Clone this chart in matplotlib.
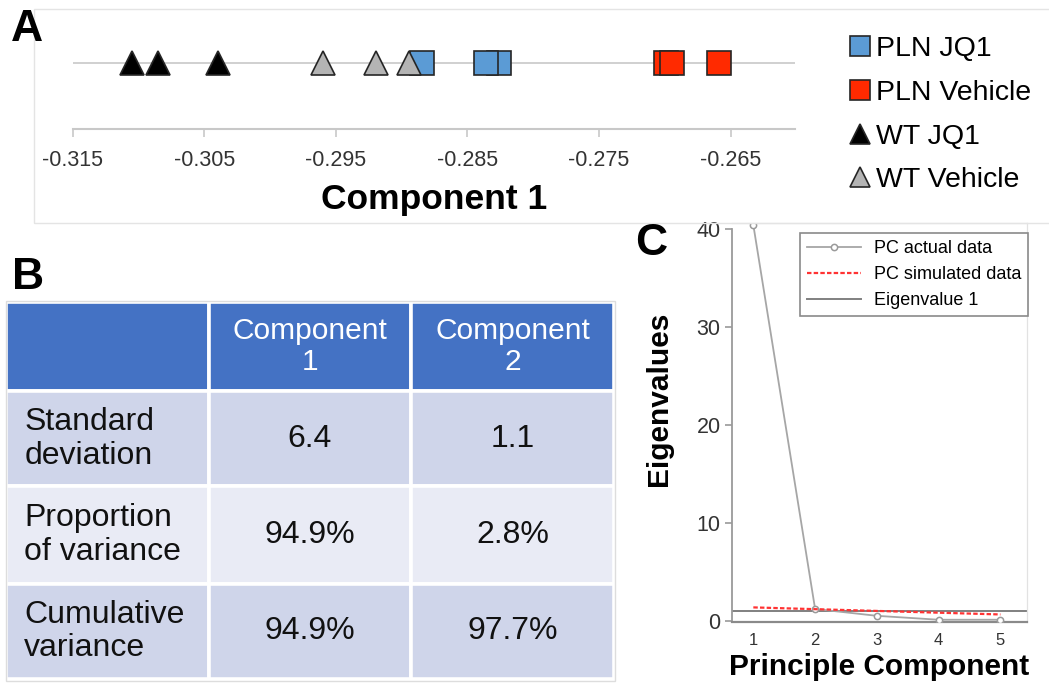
"""PCA summary figure: component-1 scores (A), variance table (B), scree plot (C)."""

import matplotlib

matplotlib.use("Agg")
import matplotlib.pyplot as plt  # noqa: E402
from matplotlib.lines import Line2D  # noqa: E402
from matplotlib.patches import Rectangle  # noqa: E402

plt.rcParams["font.family"] = ["Liberation Sans", "DejaVu Sans"]

# ---- data ----
# Panel A: component 1 scores per group
GROUPS = ["PLN JQ1", "PLN Vehicle", "WT JQ1", "WT Vehicle"]
pln_jq1 = [-0.28848, -0.28264, -0.28356]
pln_vehicle = [-0.26992, -0.26946, -0.26589]
wt_jq1 = [-0.31047, -0.30850, -0.30398]
wt_vehicle = [-0.29600, -0.29195, -0.28942]
score_ticks = [-0.315, -0.305, -0.295, -0.285, -0.275, -0.265]

# Panel B: summary table
row_labels = ["Standard\ndeviation", "Proportion\nof variance", "Cumulative\nvariance"]
col_labels = ["Component\n1", "Component\n2"]
comp1_vals = ["6.4", "94.9%", "94.9%"]
comp2_vals = ["1.1", "2.8%", "97.7%"]

# Panel C: scree plot
pc_index = [1, 2, 3, 4, 5]
pc_actual = [40.4, 1.2, 0.5, 0.1, 0.1]
pc_simulated = [1.36, 1.18, 1.00, 0.82, 0.64]
eig_cutoff = 1.0

W, H = 1049, 683
fig = plt.figure(figsize=(W / 100, H / 100), dpi=100)


def rect(x0, y0, x1, y1):
    """pixel box (top-left origin) -> figure fraction rect"""
    return [x0 / W, 1 - y1 / H, (x1 - x0) / W, (y1 - y0) / H]


# faint panel frames
fig.patches.append(Rectangle((34 / W, 1 - 222.5 / H), 1.1, (222.5 - 9) / H,
                             transform=fig.transFigure, fill=False,
                             edgecolor="#e4e4e4", linewidth=1))
fig.patches.append(Rectangle((5.7 / W, 1 - 680.7 / H), (615 - 5.7) / W, (680.7 - 300.7) / H,
                             transform=fig.transFigure, fill=False,
                             edgecolor="#dddddd", linewidth=1))

# ---- Panel A ----
axA = fig.add_axes(rect(72.7, 30, 795, 129))
axA.axhline(0, color="#c8c8c8", linewidth=1.2, zorder=0)
styles = [
    (pln_jq1, "s", "#5B9BD5"),
    (pln_vehicle, "s", "#FF2A00"),
    (wt_jq1, "^", "#000000"),
    (wt_vehicle, "^", "#B4B4B4"),
]
for vals, mk, col in styles:
    axA.plot(vals, [0] * len(vals), linestyle="none", marker=mk, markersize=17,
             markerfacecolor=col, markeredgecolor="#262626", markeredgewidth=1.2)
axA.set_xlim(-0.315, -0.26011)
axA.set_ylim(-2, 1)
axA.set_yticks([])
axA.set_xticks(score_ticks)
axA.set_xticklabels([f"{t:.3f}" for t in score_ticks])
for side in ["top", "right", "left"]:
    axA.spines[side].set_visible(False)
axA.spines["bottom"].set_color("#c8c8c8")
axA.spines["bottom"].set_linewidth(1.5)
axA.tick_params(axis="x", length=6, width=1.2, color="#c8c8c8", labelsize=15.5,
                labelcolor="#333333", pad=9)
axA.set_xlabel("Component 1", fontsize=25.5, fontweight="bold", labelpad=9)

handles = [Line2D([], [], linestyle="none", marker=mk, markersize=14,
                  markerfacecolor=col, markeredgecolor="#262626", markeredgewidth=1.2)
           for _, mk, col in styles]
axA.legend(handles, GROUPS, loc="upper left", bbox_to_anchor=(836 / W, 1 - 22 / H),
           bbox_transform=fig.transFigure, frameon=False, fontsize=20.5,
           handlelength=0.7, handletextpad=0.2, borderpad=0, labelspacing=0.62)

# ---- Panel B ----
axB = fig.add_axes(rect(6, 302, 614, 679))
axB.axis("off")
cell_text = [[r, a, b] for r, a, b in zip(row_labels, comp1_vals, comp2_vals)]
tbl = axB.table(cellText=cell_text, colLabels=[""] + col_labels,
                cellLoc="center", bbox=[0, 0, 1, 1])
tbl.auto_set_font_size(False)
row_colors = ["#4472C4", "#CFD5EA", "#E9EBF5", "#CFD5EA"]
row_heights = [88, 94, 96, 94]
for (r, c), cell in tbl.get_celld().items():
    cell.set_facecolor(row_colors[r])
    cell.set_edgecolor("white")
    cell.set_linewidth(2.6)
    cell.set_height(row_heights[r])
    cell.set_width(1.0)
    txt = cell.get_text()
    txt.set_linespacing(1.15)
    if r == 0:
        txt.set_color("white")
        txt.set_fontsize(21.5)
    else:
        txt.set_color("#111111")
        txt.set_fontsize(23)
    if c == 0 and r > 0:
        cell._loc = "left"
        cell.PAD = 0.09
        txt.set_horizontalalignment("left")

# ---- Panel C ----
axC = fig.add_axes(rect(731.7, 223, 1027, 621.7))
axC.plot(pc_index, pc_actual, color="#a6a6a6", linewidth=1.3, marker="o",
         markersize=4.5, markerfacecolor="white", markeredgecolor="#9a9a9a",
         markeredgewidth=1.1, label="PC actual data", zorder=3)
axC.plot(pc_index, pc_simulated, color="#ff3333", linewidth=1.6, linestyle=(0, (2, 1)),
         label="PC simulated data", zorder=4)
axC.axhline(eig_cutoff, color="#808080", linewidth=1.4, label="Eigenvalue 1", zorder=2)
axC.set_xlim(0.65, 5.43)
axC.set_ylim(-0.1, 40.6)
axC.set_xticks(pc_index)
axC.set_yticks([0, 10, 20, 30, 40])
axC.spines["left"].set_bounds(0, 40)
axC.spines["left"].set_color("#9a9a9a")
axC.spines["left"].set_linewidth(1.3)
axC.spines["bottom"].set_color("#8a8a8a")
axC.spines["bottom"].set_linewidth(1.6)
for side in ["top", "right"]:
    axC.spines[side].set_color("#e2e2e2")
    axC.spines[side].set_linewidth(0.9)
axC.tick_params(axis="y", length=5, width=1.2, color="#9a9a9a", labelsize=15.5,
                labelcolor="#333333", pad=3)
axC.tick_params(axis="x", length=0, labelsize=12, labelcolor="#333333", pad=8)
axC.set_xlabel("Principle Component", fontsize=21.5, fontweight="bold", labelpad=4)
axC.set_ylabel("Eigenvalues", fontsize=21.5, fontweight="bold")
axC.yaxis.set_label_coords(-0.2, 0.56)
leg = axC.legend(loc="upper right", bbox_to_anchor=(1028.3 / W, 1 - 232.7 / H),
                 bbox_transform=fig.transFigure, fontsize=13, fancybox=False,
                 framealpha=1, edgecolor="#8a8a8a", handlelength=3.0,
                 handletextpad=0.7, borderaxespad=0, labelspacing=0.5)
leg.get_frame().set_linewidth(1.2)

# panel letters
for letter, x, y in [("A", 11, 9), ("B", 12, 257), ("C", 635, 223)]:
    fig.text(x / W, 1 - y / H, letter, fontsize=32, fontweight="bold", va="top", ha="left")

fig.savefig("out.png", dpi=100)
